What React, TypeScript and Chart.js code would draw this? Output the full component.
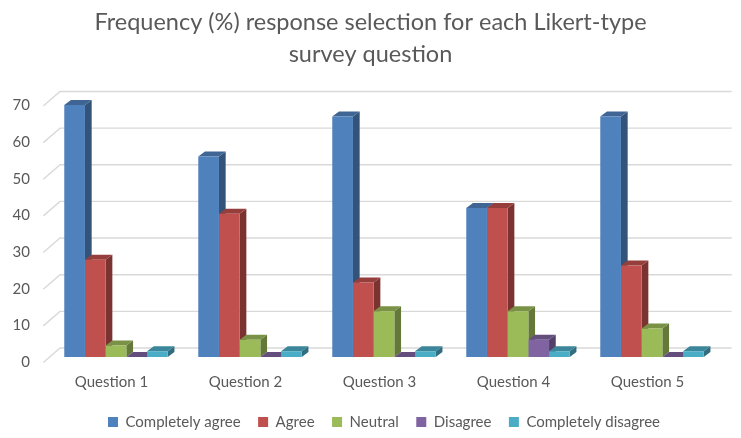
import React, { useEffect, useRef } from 'react';
import { Chart, registerables } from 'chart.js';

Chart.register(...registerables);

const titleLines = ['Frequency (%) response selection for each Likert-type', 'survey question'];
const categories = ['Question 1', 'Question 2', 'Question 3', 'Question 4', 'Question 5'];
const seriesNames = ['Completely agree', 'Agree', 'Neutral', 'Disagree', 'Completely disagree'];
const completelyAgree = [68.75, 54.69, 65.63, 40.63, 65.63];
const agree = [26.56, 39.06, 20.31, 40.63, 25.0];
const neutral = [3.13, 4.69, 12.5, 12.5, 7.81];
const disagree = [0, 0, 0, 4.69, 0];
const completelyDisagree = [1.56, 1.56, 1.56, 1.56, 1.56];
const yMin = 0;
const yMax = 70;
const yStep = 10;

const frontColors = ['#4F81BD', '#C0504D', '#9BBB59', '#8064A2', '#4BACC6'];
const FONT = 'Lato';
const TEXT = '#595959';

function shade(hex: string, f: number): string {
  const n = parseInt(hex.slice(1), 16);
  const r = Math.round(((n >> 16) & 255) * f);
  const g = Math.round(((n >> 8) & 255) * f);
  const b = Math.round((n & 255) * f);
  return `rgb(${r},${g},${b})`;
}

const BAR_DX = 6.7;
const BAR_DY = 5;

const depthPlugin = {
  id: 'depth3d',
  beforeDatasetsDraw(chart: any) {
    const { ctx, chartArea, scales } = chart;
    const ys = scales.y;
    ctx.save();
    // back wall + side wall grid lines
    ctx.strokeStyle = '#D9D9D9';
    ctx.lineWidth = 1.4;
    ys.ticks.forEach((t: any) => {
      const py = ys.getPixelForValue(t.value);
      ctx.beginPath();
      ctx.moveTo(chartArea.left - 5.7, py + 5.5);
      ctx.lineTo(chartArea.left + 11, py - 9);
      ctx.lineTo(chartArea.right + 12.7, py - 9);
      ctx.stroke();
    });
    // bar side and top faces
    const nCat = chart.data.labels.length;
    const nDs = chart.data.datasets.length;
    for (let c = 0; c < nCat; c++) {
      for (let d = 0; d < nDs; d++) {
        const meta = chart.getDatasetMeta(d);
        const el = meta.data[c];
        if (!el) continue;
        const p = el.getProps(['x', 'y', 'base', 'width'], true);
        const l = p.x - p.width / 2;
        const r = p.x + p.width / 2;
        const top = Math.min(p.y, p.base);
        const base = Math.max(p.y, p.base);
        const col = frontColors[d];
        // side
        ctx.fillStyle = shade(col, 0.64);
        ctx.beginPath();
        ctx.moveTo(r, top);
        ctx.lineTo(r + BAR_DX, top - BAR_DY);
        ctx.lineTo(r + BAR_DX, base - BAR_DY);
        ctx.lineTo(r, base);
        ctx.closePath();
        ctx.fill();
        // top
        ctx.fillStyle = shade(col, 0.78);
        ctx.beginPath();
        ctx.moveTo(l, top);
        ctx.lineTo(r, top);
        ctx.lineTo(r + BAR_DX, top - BAR_DY);
        ctx.lineTo(l + BAR_DX, top - BAR_DY);
        ctx.closePath();
        ctx.fill();
      }
    }
    ctx.restore();
  },
};

export default function App() {
  const ref = useRef<HTMLCanvasElement | null>(null);

  useEffect(() => {
    document.body.style.margin = '0';
    const canvas = ref.current;
    if (!canvas) return;
    const seriesValues = [completelyAgree, agree, neutral, disagree, completelyDisagree];
    const chart = new Chart(canvas, {
      type: 'bar',
      data: {
        labels: categories,
        datasets: seriesNames.map((name, i) => ({
          label: name,
          data: seriesValues[i],
          backgroundColor: frontColors[i],
          borderWidth: 0,
          categoryPercentage: 0.772,
          barPercentage: 1.0,
        })),
      },
      options: {
        animation: false,
        responsive: true,
        maintainAspectRatio: false,
        layout: { padding: { left: 0, right: 0, top: 0, bottom: 5.5 } },
        plugins: {
          title: {
            display: true,
            text: titleLines,
            color: TEXT,
            font: { family: FONT, size: 23.5, weight: 'normal', lineHeight: 1.35 },
            padding: { top: 6.5, bottom: 30.5 },
          },
          legend: {
            display: true,
            position: 'bottom',
            fullSize: false,
            maxHeight: 35.5,
            labels: {
              color: TEXT,
              font: { family: FONT, size: 15 },
              boxWidth: 10,
              boxHeight: 10,
              padding: 17.5,
            },
          },
          tooltip: { enabled: false },
        },
        scales: {
          x: {
            grid: { display: false, drawTicks: false },
            border: { display: false },
            ticks: {
              color: TEXT,
              font: { family: FONT, size: 15 },
              padding: 16.3,
              labelOffset: -4.5,
            },
            afterFit: (s: any) => {
              s.height = 40;
            },
          },
          y: {
            min: yMin,
            max: yMax,
            grid: { display: false, drawTicks: false },
            border: { display: false },
            ticks: {
              stepSize: yStep,
              color: TEXT,
              font: { family: FONT, size: 15 },
              padding: 19,
              labelOffset: 5,
            },
            afterFit: (s: any) => {
              s.width = 49;
            },
          },
          yRightSpace: {
            type: 'linear',
            position: 'right',
            display: true,
            grid: { display: false, drawTicks: false },
            border: { display: false },
            ticks: { display: false },
            afterFit: (s: any) => {
              s.width = 22;
            },
          },
        },
      },
      plugins: [depthPlugin],
    });
    return () => chart.destroy();
  }, []);

  return (
    <div style={{ width: 741, height: 438, position: 'relative' }}>
      <canvas ref={ref} />
    </div>
  );
}
